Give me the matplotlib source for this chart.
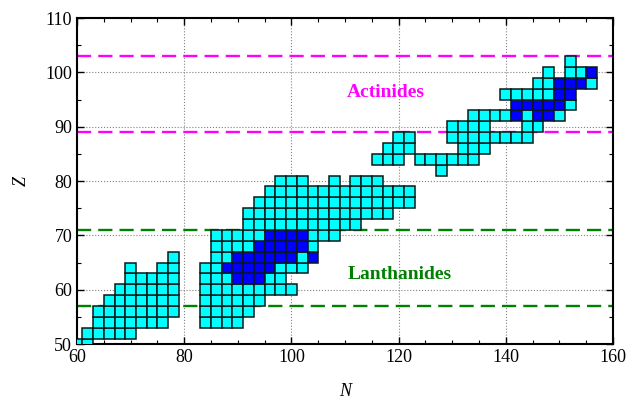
import matplotlib
matplotlib.use("Agg")
import matplotlib.pyplot as plt
from matplotlib.patches import Rectangle
from matplotlib.ticker import MultipleLocator

# =========================================================
# 1) Datos: nucleos par-par (N, Z)
# =========================================================
z_values = [50, 52, 54, 56, 58, 60, 62, 64, 66, 68, 70, 72, 74, 76,
            78, 80, 82, 84, 86, 88, 90, 92, 94, 96, 98, 100, 102]

# todos los N para cada Z (mismo orden que z_values)
n_all = [
    [60, 62],
    [62, 64, 66, 68, 70],
    [64, 66, 68, 70, 72, 74, 76, 84, 86, 88, 90],
    [64, 66, 68, 70, 72, 74, 76, 78, 84, 86, 88, 90, 92],
    [66, 68, 70, 72, 74, 76, 78, 84, 86, 88, 90, 92, 94],
    [68, 70, 72, 74, 76, 78, 84, 86, 88, 90, 92, 94, 96, 98, 100],
    [70, 72, 74, 76, 78, 84, 86, 88, 90, 92, 94, 96, 98],
    [70, 76, 78, 84, 86, 88, 90, 92, 94, 96, 98, 100, 102],
    [78, 86, 88, 90, 92, 94, 96, 98, 100, 102, 104],
    [86, 88, 90, 92, 94, 96, 98, 100, 102, 104],
    [86, 88, 90, 92, 94, 96, 98, 100, 102, 104, 106, 108],
    [92, 94, 96, 98, 100, 102, 104, 106, 108, 110, 112],
    [92, 94, 96, 98, 100, 102, 104, 106, 108, 110, 112, 114, 116, 118],
    [94, 96, 98, 100, 102, 104, 106, 108, 110, 112, 114, 116, 118, 120, 122],
    [96, 98, 100, 102, 104, 106, 108, 110, 112, 114, 116, 118, 120, 122],
    [98, 100, 102, 108, 112, 114, 116],
    [128],
    [116, 118, 120, 124, 126, 128, 130, 132, 134],
    [118, 120, 122, 132, 134, 136],
    [120, 122, 130, 132, 134, 136, 138, 140, 142, 144],
    [130, 132, 134, 136, 144, 146],
    [134, 136, 138, 140, 142, 144, 146, 148, 150],
    [142, 144, 146, 148, 150, 152],
    [140, 142, 144, 146, 148, 150, 152],
    [146, 148, 150, 152, 154, 156],
    [148, 152, 154, 156],
    [152],
]

# N marcados en azul para cada Z
n_blue = [
    [], [], [], [], [], [],
    [90, 92, 94],
    [88, 90, 92, 94, 96],
    [90, 92, 94, 96, 98, 100, 104],
    [94, 96, 98, 100, 102],
    [96, 98, 100, 102],
    [], [], [], [], [], [], [], [], [], [],
    [142, 146, 148],
    [142, 144, 146, 148, 150],
    [150, 152],
    [150, 152, 154],
    [156],
    [],
]

lanthanide_z = [57, 71]
actinide_z = [89, 103]

# =========================================================
# 2) Grafico
# =========================================================
plt.rcParams['font.family'] = ['Liberation Serif', 'DejaVu Serif']

fig = plt.figure(figsize=(6.35, 4.01), dpi=100)
ax = fig.add_axes([0.1213, 0.1421, 0.8441, 0.8130])

for z, ns, blues in zip(z_values, n_all, n_blue):
    for n in ns:
        color = "#0000ff" if n in blues else "#00ffff"
        ax.add_patch(Rectangle((n - 1, z - 1), 2, 2, facecolor=color,
                               edgecolor="#0a1a1a", linewidth=1.1, zorder=3))

for z in lanthanide_z:
    ax.axhline(z, color="green", linestyle=(0, (6, 3)), linewidth=1.7, zorder=2)
for z in actinide_z:
    ax.axhline(z, color="magenta", linestyle=(0, (6, 3)), linewidth=1.7, zorder=2)

ax.text(110.4, 95.5, "Actinides", color="magenta", fontsize=14,
        fontweight="bold", ha="left", va="baseline")
ax.text(110.4, 61.9, "Lanthanides", color="green", fontsize=14,
        fontweight="bold", ha="left", va="baseline")

ax.set_xlim(60, 160)
ax.set_ylim(50, 110)
ax.xaxis.set_major_locator(MultipleLocator(20))
ax.xaxis.set_minor_locator(MultipleLocator(5))
ax.yaxis.set_major_locator(MultipleLocator(10))
ax.yaxis.set_minor_locator(MultipleLocator(5))
ax.tick_params(which="both", direction="in", top=True, right=True)
ax.tick_params(which="major", length=5, width=1, labelsize=13)
ax.tick_params(which="minor", length=3, width=0.8)
ax.grid(True, which="major", linestyle=":", color="gray", linewidth=0.8)
ax.set_axisbelow(True)
for s in ax.spines.values():
    s.set_linewidth(1.5)

ax.set_xlabel("N", fontsize=13, style="italic", labelpad=12)
ax.set_ylabel("Z", fontsize=13, style="italic", labelpad=11)

fig.savefig("out.png", dpi=100)
